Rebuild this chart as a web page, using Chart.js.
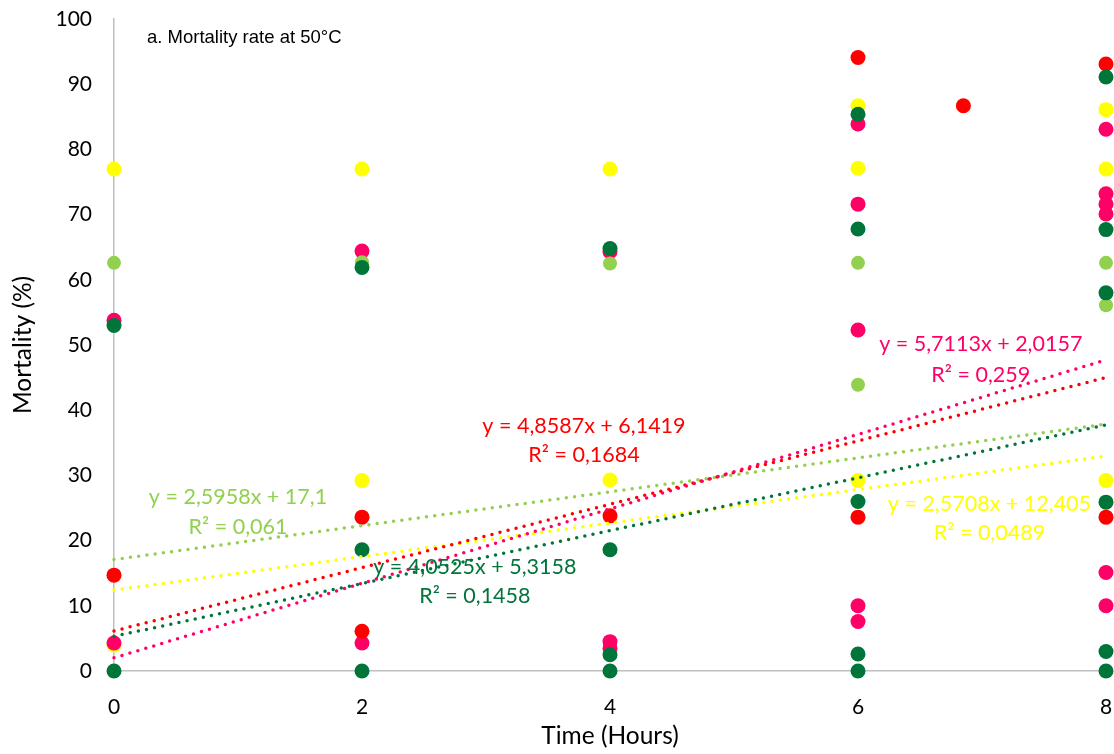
<!DOCTYPE html>
<html>
<head>
<meta charset="utf-8">
<script src="https://cdn.jsdelivr.net/npm/chart.js@4.4.1/dist/chart.umd.min.js"></script>
<style>
  body { margin: 0; background: #fff; }
  #wrap { width: 1114px; height: 754px; position: relative; }
</style>
</head>
<body>
<div id="wrap"><canvas id="scatterChart"></canvas></div>
<script>
// series values (x = hours, y = mortality %)
const redX = [0, 2, 2, 4, 6, 6, 6.85, 8, 8];
const redY = [14.7, 23.6, 6.1, 23.8, 94.1, 23.6, 86.7, 93.1, 23.6];

const yellowX = [0, 0, 2, 2, 4, 4, 6, 6, 6, 8, 8, 8];
const yellowY = [77.0, 4.0, 77.0, 29.2, 77.0, 29.3, 86.7, 77.1, 29.2, 86.1, 77.0, 29.2];

const pinkX = [0, 0, 2, 2, 4, 4, 4, 6, 6, 6, 6, 6, 8, 8, 8, 8, 8, 8];
const pinkY = [53.8, 4.3, 64.4, 4.3, 64.3, 4.5, 3.5, 83.9, 71.6, 52.3, 10.0, 7.6, 83.1, 73.2, 71.6, 70.1, 15.1, 10.0];

const lightGreenX = [0, 2, 4, 6, 6, 8, 8];
const lightGreenY = [62.6, 62.7, 62.5, 62.6, 43.9, 62.6, 56.1];

const darkGreenX = [0, 0, 2, 2, 2, 4, 4, 4, 4, 6, 6, 6, 6, 6, 8, 8, 8, 8, 8, 8];
const darkGreenY = [53.0, 0, 61.9, 18.6, 0, 64.8, 18.6, 2.5, 0, 85.4, 67.8, 26.0, 2.6, 0, 91.1, 67.7, 58.0, 25.9, 3.0, 0];

// trend line ends at x = 0 and x = 8
const trendX = [0, 8];
const redTrend = [6.14, 45.01];
const yellowTrend = [12.41, 32.97];
const pinkTrend = [2.02, 47.71];
const lightGreenTrend = [17.1, 37.87];
const darkGreenTrend = [5.32, 37.74];

// equation labels
const redEq = ["y = 4,8587x + 6,1419", "R² = 0,1684"];
const yellowEq = ["y = 2,5708x + 12,405", "R² = 0,0489"];
const pinkEq = ["y = 5,7113x + 2,0157", "R² = 0,259"];
const lightGreenEq = ["y = 2,5958x + 17,1", "R² = 0,061"];
const darkGreenEq = ["y = 4,0525x + 5,3158", "R² = 0,1458"];

const xTicks = [0, 2, 4, 6, 8];
const yTicks = [0, 10, 20, 30, 40, 50, 60, 70, 80, 90, 100];

const RED = "#FF0000";
const YELLOW = "#FFFF00";
const PINK = "#FF0066";
const LIGHT_GREEN = "#92D050";
const DARK_GREEN = "#00753A";

const toPoints = (xs, ys) => xs.map((x, i) => ({ x: x, y: ys[i] }));

const pointSet = (xs, ys, color, r) => ({
    data: toPoints(xs, ys),
    backgroundColor: color,
    borderColor: color,
    borderWidth: 0,
    pointRadius: r,
    pointHoverRadius: r,
    showLine: false,
    clip: false,
});

const trendSet = (ys, color) => ({
    data: toPoints(trendX, ys),
    showLine: true,
    borderColor: color,
    borderWidth: 3.5,
    borderDash: [0, 8.3],
    borderCapStyle: "round",
    pointRadius: 0,
    fill: false,
    clip: false,
});

// where each equation sits (data coords of the text centre, line 1 / line 2)
const eqLabels = [
    { lines: lightGreenEq, color: LIGHT_GREEN, x: 1.0, y: [26.7, 22.1] },
    { lines: redEq, color: RED, x: 3.79, y: [37.5, 33.1] },
    { lines: darkGreenEq, color: DARK_GREEN, x: 2.91, y: [16.0, 11.5] },
    { lines: pinkEq, color: PINK, x: 6.99, y: [50.2, 45.4] },
    { lines: yellowEq, color: YELLOW, x: 7.06, y: [25.6, 21.2] },
];

const labelPlugin = {
    id: "eqLabels",
    afterDatasetsDraw(chart) {
        const { ctx, scales } = chart;
        ctx.save();
        ctx.textAlign = "center";
        ctx.textBaseline = "middle";
        ctx.font = "21.5px Lato";
        eqLabels.forEach((lab) => {
            ctx.fillStyle = lab.color;
            lab.lines.forEach((t, i) => {
                ctx.fillText(t, scales.x.getPixelForValue(lab.x), scales.y.getPixelForValue(lab.y[i]));
            });
        });
        // panel title
        ctx.fillStyle = "#000";
        ctx.textAlign = "left";
        ctx.font = "18.5px 'Liberation Sans'";
        ctx.fillText("a. Mortality rate at 50°C", 147, 38);
        ctx.restore();
    },
};

const createChart = () => {
    const ctx = document.getElementById("scatterChart");
    new Chart(ctx, {
        type: "scatter",
        data: {
            datasets: [
                trendSet(pinkTrend, PINK),
                trendSet(redTrend, RED),
                trendSet(darkGreenTrend, DARK_GREEN),
                trendSet(lightGreenTrend, LIGHT_GREEN),
                trendSet(yellowTrend, YELLOW),
                pointSet(darkGreenX, darkGreenY, DARK_GREEN, 7.5),
                pointSet(redX, redY, RED, 7.5),
                pointSet(lightGreenX, lightGreenY, LIGHT_GREEN, 7),
                pointSet(pinkX, pinkY, PINK, 7.5),
                pointSet(yellowX, yellowY, YELLOW, 7.5),
            ],
        },
        options: {
            responsive: true,
            maintainAspectRatio: false,
            animation: false,
            layout: { padding: { top: 19, right: 8, left: 0, bottom: 0 } },
            plugins: { legend: { display: false }, tooltip: { enabled: false } },
            elements: { point: { borderWidth: 0 } },
            scales: {
                x: {
                    type: "linear",
                    min: 0,
                    max: 8,
                    afterBuildTicks: (scale) => { scale.ticks = xTicks.map((v) => ({ value: v })); },
                    afterFit: (scale) => { scale.height = 83; },
                    grid: { display: true, drawOnChartArea: false, drawTicks: true, tickLength: 24, tickColor: "rgba(0,0,0,0)" },
                    border: { display: true, color: "#BFBFBF", width: 1.5 },
                    ticks: { padding: 0, color: "#000", font: { family: "Lato", size: 21 } },
                    title: {
                        display: true,
                        text: "Time (Hours)",
                        color: "#000",
                        font: { family: "Lato", size: 24.5 },
                        padding: { top: 0, bottom: 3 },
                    },
                },
                y: {
                    min: 0,
                    max: 100,
                    afterBuildTicks: (scale) => { scale.ticks = yTicks.map((v) => ({ value: v })); },
                    afterFit: (scale) => { scale.width = 114; },
                    grid: { display: true, drawOnChartArea: false, drawTicks: true, tickLength: 22, tickColor: "rgba(0,0,0,0)" },
                    border: { display: true, color: "#BFBFBF", width: 1.5 },
                    ticks: { padding: 0, color: "#000", font: { family: "Lato", size: 21 } },
                    title: {
                        display: true,
                        text: "Mortality (%)",
                        color: "#000",
                        font: { family: "Lato", size: 24.5 },
                        padding: { top: 8, bottom: 0 },
                    },
                },
            },
        },
        plugins: [labelPlugin],
    });
};

createChart();
</script>
</body>
</html>
